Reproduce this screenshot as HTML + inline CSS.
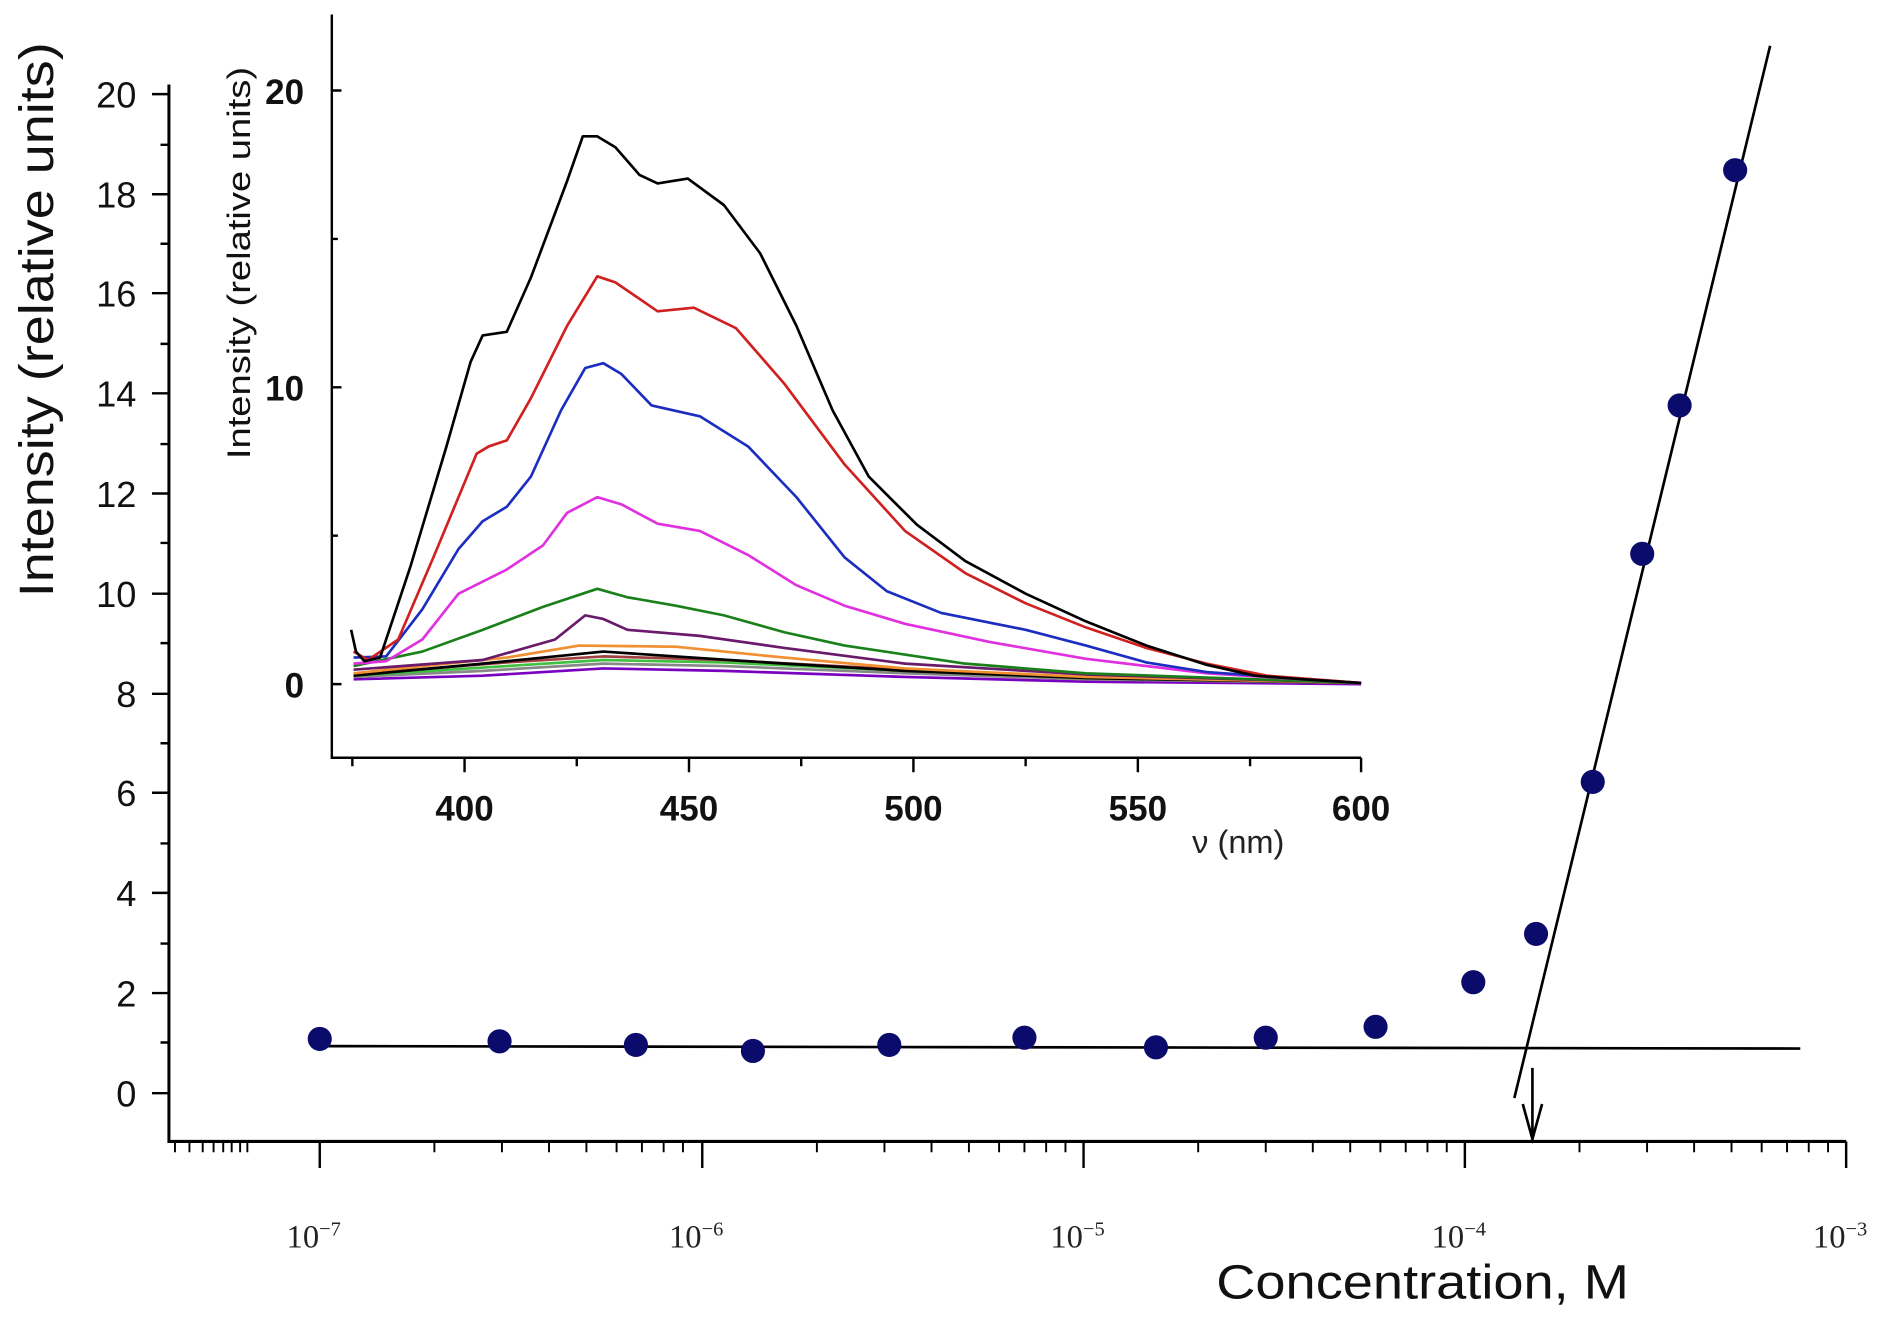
<!DOCTYPE html>
<html><head><meta charset="utf-8"><style>html,body{margin:0;padding:0;background:#fff}svg{display:block}</style></head>
<body>
<svg width="1892" height="1317" viewBox="0 0 1568 1091.5" preserveAspectRatio="none" xmlns="http://www.w3.org/2000/svg">
<rect width="1568" height="1092" fill="#fff"/>
<g stroke="#000" stroke-width="2.5" fill="none">
<path d="M140 70V946H1530"/>
</g>
<g stroke="#000" stroke-width="2" fill="none">
<path d="M140 78h-14M140 161h-14M140 243h-14M140 326h-14M140 409h-14M140 492h-14M140 575h-14M140 657h-14M140 740h-14M140 823h-14M140 906h-14"/>
<path d="M140 120h-7M140 202h-7M140 285h-7M140 368h-7M140 450h-7M140 533h-7M140 616h-7M140 699h-7M140 782h-7M140 864h-7"/>
<path d="M265 946v22M582 946v22M898 946v22M1214 946v22M1530 946v22"/>
</g>
<g stroke="#000" stroke-width="1.6" fill="none">
<path d="M145 946v9M157 946v9M168 946v9M177 946v9M185 946v9M192 946v9M199 946v9M205 946v9M360 946v9M416 946v9M455 946v9M486 946v9M511 946v9M532 946v9M550 946v9M566 946v9M677 946v9M733 946v9M772 946v9M803 946v9M828 946v9M849 946v9M867 946v9M883 946v9M993 946v9M1049 946v9M1088 946v9M1119 946v9M1144 946v9M1165 946v9M1183 946v9M1199 946v9M1309 946v9M1365 946v9M1404 946v9M1435 946v9M1460 946v9M1481 946v9M1499 946v9M1515 946v9"/>
</g>
<g font-family="Liberation Sans, sans-serif" font-size="30" text-anchor="end" fill="#111">
<text x="113" y="89">20</text><text x="113" y="172">18</text><text x="113" y="254">16</text><text x="113" y="337">14</text><text x="113" y="420">12</text><text x="113" y="503">10</text><text x="113" y="586">8</text><text x="113" y="668">6</text><text x="113" y="751">4</text><text x="113" y="834">2</text><text x="113" y="917">0</text>
</g>
<g font-family="Liberation Serif, serif" font-size="27" fill="#222" text-anchor="middle">
<text x="260" y="1034">10<tspan dy="-10" font-size="17">−7</tspan></text>
<text x="577" y="1034">10<tspan dy="-10" font-size="17">−6</tspan></text>
<text x="893" y="1034">10<tspan dy="-10" font-size="17">−5</tspan></text>
<text x="1209" y="1034">10<tspan dy="-10" font-size="17">−4</tspan></text>
<text x="1525" y="1034">10<tspan dy="-10" font-size="17">−3</tspan></text>
</g>
<text x="1008" y="1076" font-family="Liberation Sans, sans-serif" font-size="40" fill="#111" textLength="342" lengthAdjust="spacingAndGlyphs">Concentration, M</text>
<text transform="translate(44 265) rotate(-90)" font-family="Liberation Sans, sans-serif" font-size="40" fill="#111" text-anchor="middle" textLength="460" lengthAdjust="spacingAndGlyphs">Intensity (relative units)</text>
<g stroke="#000" stroke-width="2.2" fill="none">
<path d="M270 867L1492 869"/>
<path d="M1255 910L1467 38"/>
<path d="M1270 885V944M1262 915L1270 944L1278 915"/>
</g>
<g fill="#0b0b6b">
<circle cx="265" cy="861" r="10"/><circle cx="414" cy="863" r="10"/><circle cx="527" cy="866" r="10"/><circle cx="624" cy="871" r="10"/><circle cx="737" cy="866" r="10"/><circle cx="849" cy="860" r="10"/><circle cx="958" cy="868" r="10"/><circle cx="1049" cy="860" r="10"/><circle cx="1140" cy="851" r="10"/><circle cx="1221" cy="814" r="10"/><circle cx="1273" cy="774" r="10"/><circle cx="1320" cy="648" r="10"/><circle cx="1361" cy="459" r="10"/><circle cx="1392" cy="336" r="10"/><circle cx="1438" cy="141" r="10"/>
</g>
<g stroke="#000" stroke-width="2" fill="none">
<path d="M275 12V628H1128"/>
<path d="M385 628v12M571 628v12M757 628v12M943 628v12M1128 628v12"/>
<path d="M292 628v7M478 628v7M664 628v7M850 628v7M1036 628v7"/>
<path d="M275 75h8M275 321h8M275 567h8M275 198h5M275 444h5"/>
</g>
<g font-family="Liberation Sans, sans-serif" font-size="29" font-weight="bold" text-anchor="middle" fill="#111">
<text x="385" y="680">400</text><text x="571" y="680">450</text><text x="757" y="680">500</text><text x="943" y="680">550</text><text x="1128" y="680">600</text>
<text x="252" y="86" text-anchor="end">20</text><text x="252" y="332" text-anchor="end">10</text><text x="252" y="578" text-anchor="end">0</text>
</g>
<text x="988" y="707" font-family="Liberation Sans, sans-serif" font-size="27" fill="#222">ν (nm)</text>
<text transform="translate(207 218) rotate(-90)" font-family="Liberation Sans, sans-serif" font-size="27" fill="#111" text-anchor="middle" textLength="325" lengthAdjust="spacingAndGlyphs">Intensity (relative units)</text>
<g fill="none" stroke-width="2.2" stroke-linejoin="round">
<polyline stroke="#7a00c0" points="293,563 400,560 500,554 600,556 750,561 900,565 1128,567"/>
<polyline stroke="#888" points="293,561 400,556 500,550 600,552 750,558 900,563 1128,566"/>
<polyline stroke="#40c040" points="293,560 420,552 500,547 600,549 750,556 900,562 1128,566"/>
<polyline stroke="#a04040" points="293,559 420,549 500,544 600,547 750,555 900,561 1128,566"/>
<polyline stroke="#000" points="293,560 400,550 470,543 500,540 560,544 650,550 750,556 900,562 1128,566"/>
<polyline stroke="#f09030" points="293,558 420,545 480,535 560,536 650,545 750,554 900,561 1128,566"/>
<polyline stroke="#6a1a6a" points="293,555 400,547 460,530 485,510 500,513 520,522 580,527 650,537 750,550 900,559 1128,566"/>
<polyline stroke="#1a801a" points="293,552 350,540 400,522 450,503 495,488 520,495 560,502 600,510 650,524 700,535 800,550 900,558 1128,566"/>
<polyline stroke="#e030e0" points="293,550 320,548 350,530 380,492 420,472 450,452 470,425 495,412 515,418 545,434 580,440 620,460 660,485 700,502 750,517 820,532 900,546 1000,558 1128,566"/>
<polyline stroke="#1c2ec0" points="293,545 320,544 350,505 380,455 400,432 420,420 440,395 465,340 485,305 500,301 515,310 540,336 580,345 620,370 660,412 700,462 735,490 780,508 850,522 900,535 950,549 1000,557 1128,566"/>
<polyline stroke="#d02020" points="293,540 305,547 330,530 360,460 385,400 395,376 405,370 420,365 440,330 470,270 495,229 510,234 545,258 575,255 610,272 650,318 700,385 750,440 800,475 850,500 900,520 950,537 1000,550 1050,560 1128,566"/>
<polyline stroke="#000" points="291,522 295,540 302,548 315,545 340,470 370,370 390,300 400,278 420,275 440,230 470,150 483,113 495,113 510,122 530,145 545,152 570,148 600,170 630,210 660,270 690,340 720,395 760,435 800,465 850,492 900,515 950,535 1000,551 1040,560 1080,563 1128,566"/>
</g>
</svg>
</body></html>
